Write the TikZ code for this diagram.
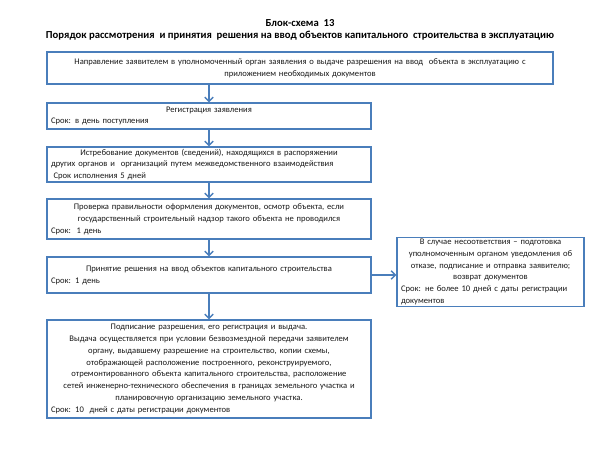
\documentclass[tikz,border=0pt]{standalone}
\usepackage{fontspec}
\setmainfont{Carlito}
\usetikzlibrary{arrows.meta, shadows}
\definecolor{boxblue}{RGB}{74,126,187}
\setlength{\parindent}{0pt}
\begin{document}
\begin{tikzpicture}[
  box/.style={draw=boxblue, line width=1pt, fill=white, inner xsep=0.1cm, inner ysep=1pt,
    text=black!90, font=\fontsize{6.1}{8.4}\selectfont,
    drop shadow={shadow xshift=0.7pt, shadow yshift=-0.7pt, opacity=0.25}},
  arr/.style={draw=boxblue, line width=1pt, -{Straight Barb[length=3pt, width=6pt]}},
  title/.style={font=\fontsize{7.6}{10}\selectfont\bfseries, text=black, inner sep=0pt}]
  \useasboundingbox (0,0) rectangle (15,-11.25);
  % Title
  \node[title] (head) at (7.5,-0.58) {Блок-схема\ \ 13};
  \node[title] (subhead) at (7.5,-0.9) {Порядок рассмотрения\ \ и принятия\ \ решения на ввод объектов капитального\ \ строительства в эксплуатацию};
  % Main column
  \node[box, text width=12.45cm, minimum height=0.8cm] (appl) at (7.5,-1.7)
    {\centering Направление заявителем в уполномоченный орган заявления о выдаче разрешения на ввод\ \ объекта в эксплуатацию с\\ приложением необходимых документов\par};
  \node[box, text width=7.9cm, minimum height=0.65cm] (reg) at (5.225,-2.9)
    {\centering Регистрация заявления\par\raggedright Срок: в день поступления\par};
  \node[box, text width=7.9cm, minimum height=0.875cm] (req) at (5.225,-4.1125)
    {\centering Истребование документов (сведений), находящихся в распоряжении\par
     \raggedright других органов и\ \ организаций путем межведомственного взаимодействия\par
     \hspace*{0.3em}Срок исполнения 5 дней\par};
  \node[box, text width=7.9cm, minimum height=1.0cm] (check) at (5.225,-5.475)
    {\centering Проверка правильности оформления документов, осмотр объекта, если\\ государственный строительный надзор такого объекта не проводился\par
     \raggedright Срок:\ \ 1 день\par};
  \node[box, text width=7.9cm, minimum height=0.9cm] (decide) at (5.225,-6.875)
    {\centering Принятие решения на ввод объектов капитального строительства\par
     \raggedright Срок: 1 день\par};
  \node[box, text width=7.9cm, minimum height=2.45cm] (issue) at (5.225,-9.225)
    {\centering Подписание разрешения, его регистрация и выдача.\\
     Выдача осуществляется при условии безвозмездной передачи заявителем\\
     органу, выдавшему разрешение на строительство, копии схемы,\\
     отображающей расположение построенного, реконструируемого,\\
     отремонтированного объекта капитального строительства, расположение\\
     сетей инженерно-технического обеспечения в границах земельного участка и\\
     планировочную организацию земельного участка.\par
     \raggedright Срок: 10\ \ дней с даты регистрации документов\par};
  % Refusal branch
  \node[box, text width=4.475cm, minimum height=1.7cm] (refuse) at (12.2625,-6.8)
    {\centering В случае несоответствия -- подготовка\\ уполномоченным органом уведомления об\\ отказе, подписание и отправка заявителю;\\ возврат документов\par
     \raggedright Срок: не более 10 дней с даты регистрации документов\par};
  % Arrows
  \draw[arr] (reg.north |- appl.south) -- (reg.north);
  \draw[arr] (reg) -- (req);
  \draw[arr] (req) -- (check);
  \draw[arr] (check) -- (decide);
  \draw[arr] (decide) -- (issue);
  \draw[arr] (decide.east) -- (decide.east -| refuse.west);
\end{tikzpicture}
\end{document}
